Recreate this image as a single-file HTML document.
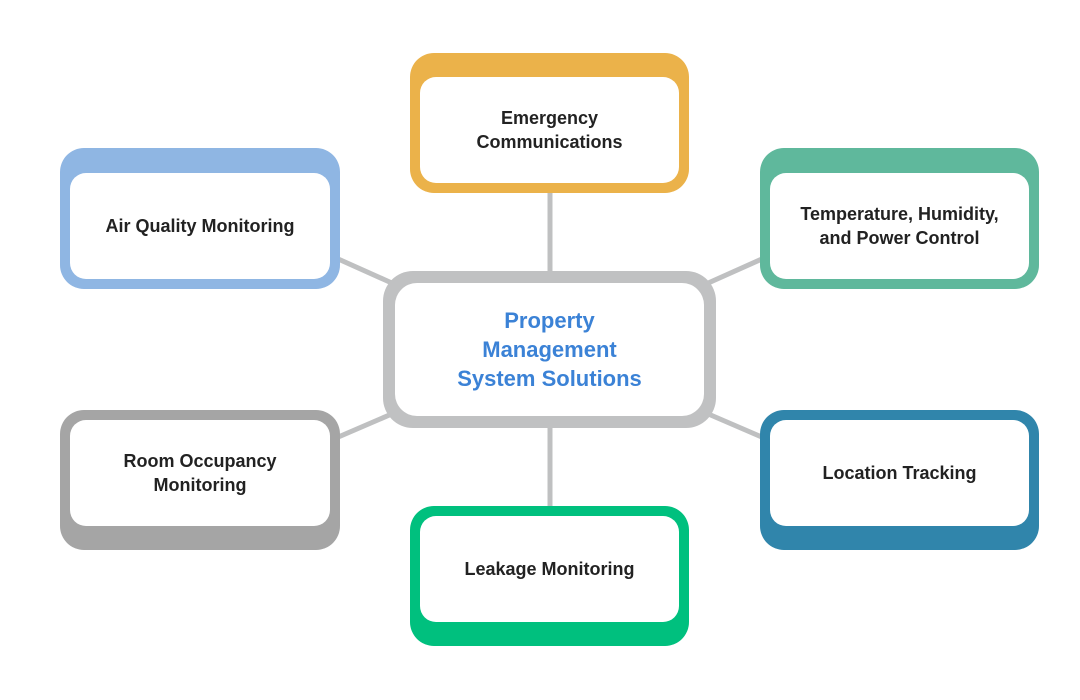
<!DOCTYPE html>
<html><head><style>
body{margin:0;width:1080px;height:700px;background:#fff;position:relative;font-family:"Liberation Sans","DejaVu Sans",sans-serif;overflow:hidden}
.o{position:absolute;border-radius:24px;box-sizing:border-box}
.i{position:absolute;background:#fff;border-radius:16px;display:flex;align-items:center;justify-content:center;text-align:center;font-weight:bold;font-size:18px;color:#222;line-height:24px}
svg{position:absolute;left:0;top:0}
</style></head><body>
<svg width="1080" height="700"><g stroke="#bfc0c1" stroke-width="5">
<line x1="550" y1="190" x2="550" y2="275"/><line x1="550" y1="425" x2="550" y2="510"/>
<line x1="336" y1="258" x2="394" y2="284"/><line x1="336" y1="438" x2="394" y2="413"/>
<line x1="764" y1="258" x2="706" y2="284"/><line x1="764" y1="438" x2="706" y2="413"/>
</g></svg>
<div class="o" style="left:410px;top:53px;width:279px;height:140px;background:#ebb24a"></div>
<div class="i" style="left:420px;top:77px;width:259px;height:106px">Emergency<br>Communications</div>
<div class="o" style="left:60px;top:148px;width:280px;height:141px;background:#8fb6e3"></div>
<div class="i" style="left:70px;top:173px;width:260px;height:106px">Air Quality Monitoring</div>
<div class="o" style="left:760px;top:148px;width:279px;height:141px;background:#5fb89c"></div>
<div class="i" style="left:770px;top:173px;width:259px;height:106px">Temperature, Humidity,<br>and Power Control</div>
<div class="o" style="left:60px;top:410px;width:280px;height:140px;background:#a5a5a5"></div>
<div class="i" style="left:70px;top:420px;width:260px;height:106px">Room Occupancy<br>Monitoring</div>
<div class="o" style="left:760px;top:410px;width:279px;height:140px;background:#3085ab"></div>
<div class="i" style="left:770px;top:420px;width:259px;height:106px">Location Tracking</div>
<div class="o" style="left:410px;top:506px;width:279px;height:140px;background:#00c07e"></div>
<div class="i" style="left:420px;top:516px;width:259px;height:106px">Leakage Monitoring</div>
<div class="o" style="left:383px;top:271px;width:333px;height:157px;background:#c0c1c2;border-radius:30px"></div>
<div class="i" style="left:395px;top:283px;width:309px;height:133px;border-radius:22px;color:#3b82d6;font-size:22px;line-height:29px">Property<br>Management<br>System Solutions</div>
</body></html>
